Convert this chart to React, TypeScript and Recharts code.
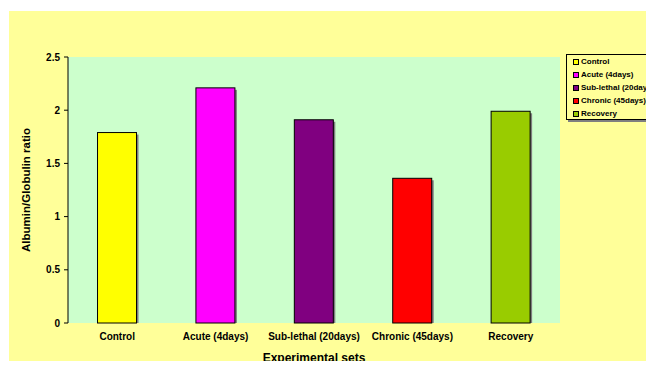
import React from 'react';
import { BarChart, Bar, Cell, XAxis, YAxis, CartesianGrid, Legend, Label } from 'recharts';

const categories = ['Control', 'Acute (4days)', 'Sub-lethal (20days)', 'Chronic (45days)', 'Recovery'];
const ratios = [1.79, 2.21, 1.91, 1.36, 1.99];
const barColors = ['#FFFF00', '#FF00FF', '#800080', '#FF0000', '#99CC00'];
const yTicks = [0, 0.5, 1, 1.5, 2, 2.5];
const boundaryTicks = [0, 1, 2, 3, 4, 5];

const data = categories.map((name, i) => ({ name, ratio: ratios[i] }));

const FONT = '"Liberation Sans", Arial, sans-serif';

function ShadowBar(props: any) {
  const { x, y, width, height, fill } = props;
  if (height <= 0) return null;
  return (
    <g>
      <rect x={x + 2} y={y + 2} width={width} height={Math.max(height - 2, 0)} fill="#7f7f7f" />
      <rect x={x} y={y} width={width} height={height} fill={fill} stroke="#000" strokeWidth={1} />
    </g>
  );
}

function LegendBox() {
  return (
    <div
      style={{
        width: 85,
        height: 66,
        boxSizing: 'border-box',
        border: '1px solid #000',
        background: '#FFFF99',
        boxShadow: '2px 2px 0 #7f7f7f',
        overflow: 'hidden',
        fontFamily: FONT,
        fontWeight: 'bold',
        fontSize: 8,
        color: '#000',
        textAlign: 'left',
      }}
    >
      {categories.map((c, i) => (
        <div key={c} style={{ height: 13, lineHeight: '13px', paddingLeft: 6, whiteSpace: 'nowrap', display: 'flex', alignItems: 'center' }}>
          <span
            style={{
              display: 'inline-block',
              width: 4,
              height: 4,
              border: '1px solid #000',
              background: barColors[i],
              marginRight: 2,
              flexShrink: 0,
            }}
          />
          <span>{c}</span>
        </div>
      ))}
    </div>
  );
}

export default function App() {
  return (
    <div style={{ position: 'relative', width: 654, height: 369, margin: -8, background: '#fff', overflow: 'hidden' }}>
      <div style={{ position: 'absolute', left: 9, top: 11, right: 0, bottom: 0, background: '#FFFF99' }} />
      <div style={{ position: 'absolute', left: 0, top: 0 }}>
        <BarChart
          width={654}
          height={369}
          data={data}
          margin={{ top: 57, right: 94, bottom: 4, left: 8 }}
          barCategoryGap="30%"
        >
          <CartesianGrid fill="#CCFFCC" horizontal={false} vertical={false} stroke="none" />
          <XAxis
            xAxisId={0}
            type="number"
            domain={[0, 5]}
            ticks={boundaryTicks}
            height={0}
            tickSize={4}
            tick={() => <g />}
            axisLine={{ stroke: '#000' }}
            tickLine={{ stroke: '#000' }}
            allowDataOverflow
          />
          <XAxis
            xAxisId="cat"
            dataKey="name"
            type="category"
            height={42}
            axisLine={false}
            tickLine={false}
            tickSize={6}
            tickMargin={4}
            interval={0}
            tick={{ fontFamily: FONT, fontWeight: 'bold', fontSize: 10, fill: '#000' }}
          >
            <Label
              value="Experimental sets"
              position="insideBottom"
              offset={3}
              style={{ fontFamily: FONT, fontWeight: 'bold', fontSize: 12, fill: '#000' }}
            />
          </XAxis>
          <XAxis xAxisId="top" orientation="top" dataKey="name" height={0} tick={false} tickLine={false} axisLine={{ stroke: '#8a8a8a', strokeWidth: 1.5 }} />
          <YAxis
            yAxisId={0}
            domain={[0, 2.5]}
            ticks={yTicks}
            width={60}
            tickSize={4}
            tickMargin={4}
            axisLine={{ stroke: '#000' }}
            tickLine={{ stroke: '#000' }}
            tick={{ fontFamily: FONT, fontWeight: 'bold', fontSize: 10, fill: '#000' }}
          >
            <Label
              value="Albumin/Globulin ratio"
              angle={-90}
              position="insideLeft"
              offset={18}
              style={{ textAnchor: 'middle', fontFamily: FONT, fontWeight: 'bold', fontSize: 11.5, fill: '#000' }}
            />
          </YAxis>
          <YAxis yAxisId="right" orientation="right" width={0} domain={[0, 2.5]} tick={false} tickLine={false} axisLine={{ stroke: '#8a8a8a', strokeWidth: 1.5 }} />
          <Legend
            layout="horizontal"
            verticalAlign="middle"
            align="center"
            wrapperStyle={{ left: 566, top: 54, width: 85, height: 66 }}
            content={() => <LegendBox />}
          />
          <Bar dataKey="ratio" xAxisId="cat" yAxisId={0} shape={ShadowBar} isAnimationActive={false}>
            {data.map((d, i) => (
              <Cell key={d.name} fill={barColors[i]} />
            ))}
          </Bar>
        </BarChart>
      </div>
    </div>
  );
}
